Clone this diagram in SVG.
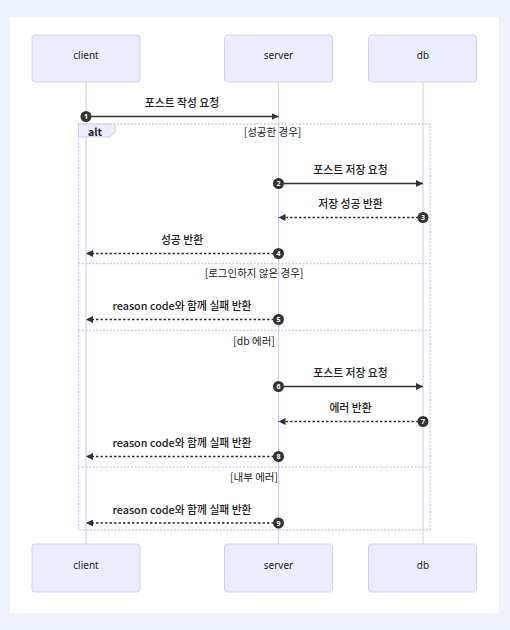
<svg xmlns="http://www.w3.org/2000/svg" width="510" height="630" viewBox="0 0 510 630">
<defs>
<style>
.actor rect{fill:#ececff;stroke:#d9d0f5;stroke-width:1}
.actor text{font-family:"Noto Sans","Noto Sans CJK KR",sans-serif;font-size:10px;fill:#222;text-anchor:middle;dominant-baseline:central}
.life{stroke:#d9d0f5;stroke-width:1.2}
.msg{stroke:#333;stroke-width:1.3;fill:none}
.dash{stroke-dasharray:2.5,2}
.mt{font-family:"Noto Sans CJK KR","Noto Sans",sans-serif;font-size:10.8px;font-weight:500;fill:#222;text-anchor:middle}
.sec{font-family:"Noto Sans CJK KR","Noto Sans",sans-serif;font-size:10.5px;fill:#222;text-anchor:middle;dominant-baseline:central}
.num circle{fill:#333}
.num text{font-family:"Noto Sans",sans-serif;font-size:7px;font-weight:bold;fill:#fff;text-anchor:middle;dominant-baseline:central}
.altbox{fill:none;stroke:#d3caf3;stroke-width:1.3;stroke-dasharray:2,1.5}
</style>
<marker id="ah" viewBox="0 0 10 10" refX="10" refY="5" markerWidth="7" markerHeight="7" markerUnits="userSpaceOnUse" orient="auto">
<path d="M0,0 L10,5 L0,10 z" fill="#333"/>
</marker>
</defs>
<rect width="510" height="630" fill="#eff3fe"/>
<rect x="10" y="17" width="489" height="596" fill="#fff"/>
<g id="lifelines">
<line class="life" x1="86" y1="82" x2="86" y2="544"/>
<line class="life" x1="278.5" y1="82" x2="278.5" y2="544"/>
<line class="life" x1="423" y1="82" x2="423" y2="544"/>
</g>
<g id="actor-client-top" class="actor"><rect x="32" y="35" width="108" height="47" rx="3"/><text x="86" y="55">client</text></g>
<g id="actor-server-top" class="actor"><rect x="224.5" y="35" width="108" height="47" rx="3"/><text x="278.5" y="55">server</text></g>
<g id="actor-db-top" class="actor"><rect x="368.5" y="35" width="108" height="47" rx="3"/><text x="423" y="55">db</text></g>
<g id="actor-client-bottom" class="actor"><rect x="32" y="544" width="108" height="48" rx="3"/><text x="86" y="565">client</text></g>
<g id="actor-server-bottom" class="actor"><rect x="224.5" y="544" width="108" height="48" rx="3"/><text x="278.5" y="565">server</text></g>
<g id="actor-db-bottom" class="actor"><rect x="368.5" y="544" width="108" height="48" rx="3"/><text x="423" y="565">db</text></g>
<g id="alt">
<rect class="altbox" x="78.5" y="124" width="351.5" height="406"/>
<polygon points="78.5,124 115,124 115,132 110,137 78.5,137" fill="#ececff" stroke="#d3caf3" stroke-width="1"/>
<text x="95" y="131" class="sec" style="font-weight:600">alt</text>
<text x="272.5" y="131" class="sec">[성공한 경우]</text>
<line class="altbox" x1="78.5" y1="263.5" x2="430" y2="263.5"/>
<text x="254" y="272.5" class="sec">[로그인하지 않은 경우]</text>
<line class="altbox" x1="78.5" y1="330.5" x2="430" y2="330.5"/>
<text x="254" y="340" class="sec">[db 에러]</text>
<line class="altbox" x1="78.5" y1="467" x2="430" y2="467"/>
<text x="254" y="476.5" class="sec">[내부 에러]</text>
</g>
<g id="connectors">
<line class="msg" x1="86" y1="116.5" x2="278.5" y2="116.5" marker-end="url(#ah)"/>
<line class="msg" x1="278.5" y1="183.5" x2="423" y2="183.5" marker-end="url(#ah)"/>
<line class="msg dash" x1="423" y1="217.5" x2="278.5" y2="217.5" marker-end="url(#ah)"/>
<line class="msg dash" x1="278.5" y1="253.5" x2="86" y2="253.5" marker-end="url(#ah)"/>
<line class="msg dash" x1="278.5" y1="319.5" x2="86" y2="319.5" marker-end="url(#ah)"/>
<line class="msg" x1="278.5" y1="386.5" x2="423" y2="386.5" marker-end="url(#ah)"/>
<line class="msg dash" x1="423" y1="421.5" x2="278.5" y2="421.5" marker-end="url(#ah)"/>
<line class="msg dash" x1="278.5" y1="456.5" x2="86" y2="456.5" marker-end="url(#ah)"/>
<line class="msg dash" x1="278.5" y1="523" x2="86" y2="523" marker-end="url(#ah)"/>
</g>
<g id="labels">
<text class="mt" x="182" y="107">포스트 작성 요청</text>
<text class="mt" x="350.5" y="174">포스트 저장 요청</text>
<text class="mt" x="350.5" y="208">저장 성공 반환</text>
<text class="mt" x="182" y="244">성공 반환</text>
<text class="mt" x="182" y="310">reason code와 함께 실패 반환</text>
<text class="mt" x="350.5" y="377">포스트 저장 요청</text>
<text class="mt" x="350.5" y="412">에러 반환</text>
<text class="mt" x="182" y="447">reason code와 함께 실패 반환</text>
<text class="mt" x="182" y="514">reason code와 함께 실패 반환</text>
</g>
<g id="numbers" class="num">
<circle cx="86" cy="116.5" r="5.5"/><text x="86" y="116.5">1</text>
<circle cx="278.5" cy="183.5" r="5.5"/><text x="278.5" y="183.5">2</text>
<circle cx="423" cy="217.5" r="5.5"/><text x="423" y="217.5">3</text>
<circle cx="278.5" cy="253.5" r="5.5"/><text x="278.5" y="253.5">4</text>
<circle cx="278.5" cy="319.5" r="5.5"/><text x="278.5" y="319.5">5</text>
<circle cx="278.5" cy="386.5" r="5.5"/><text x="278.5" y="386.5">6</text>
<circle cx="423" cy="421.5" r="5.5"/><text x="423" y="421.5">7</text>
<circle cx="278.5" cy="456.5" r="5.5"/><text x="278.5" y="456.5">8</text>
<circle cx="278.5" cy="523" r="5.5"/><text x="278.5" y="523">9</text>
</g>
</svg>
